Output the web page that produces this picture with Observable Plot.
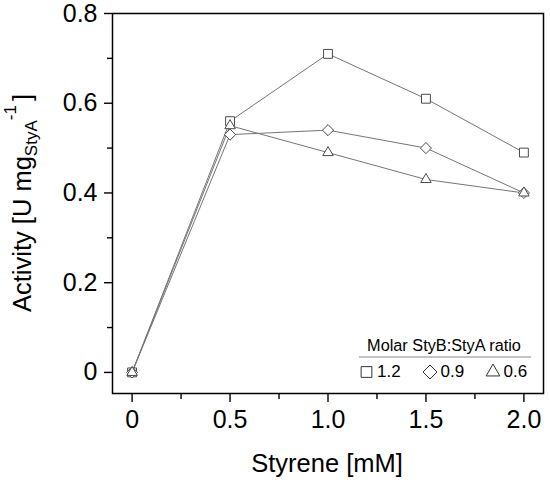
<!DOCTYPE html>
<html>
<head>
<meta charset="utf-8">
<script src="https://cdn.jsdelivr.net/npm/d3@7"></script>
<script src="https://cdn.jsdelivr.net/npm/@observablehq/plot@0.6"></script>
<style>
  body { margin: 0; background: white; }
  #chart svg { display: block; }
</style>
</head>
<body>
<div id="chart"></div>
<script>
const styrene = [0, 0.5, 1.0, 1.5, 2.0]
const ratios = ["1.2", "0.9", "0.6"]
const act12 = [0, 0.56, 0.71, 0.61, 0.49]
const act09 = [0, 0.53, 0.54, 0.50, 0.40]
const act06 = [0, 0.55, 0.49, 0.43, 0.40]
const xTicks = [0, 0.5, 1.0, 1.5, 2.0]
const xMinor = [0.25, 0.75, 1.25, 1.75]
const yTicks = [0, 0.2, 0.4, 0.6, 0.8]
const yMinor = [0.1, 0.3, 0.5, 0.7]
const legendTitle = "Molar StyB:StyA ratio"

const series = [act12, act09, act06]
const rows = ratios.flatMap((r, i) =>
  styrene.map((x, j) => ({ratio: r, styrene: x, activity: series[i][j]}))
)

const fmt = d => d === 0 ? "0" : d.toFixed(1)
const font = "'Liberation Sans', Arial, sans-serif"

let chart = Plot.plot({
  width: 550,
  height: 483,
  marginLeft: 112,
  marginRight: 7,
  marginTop: 13,
  marginBottom: 90,
  x: {domain: [-0.1, 2.1]},
  y: {domain: [-0.047, 0.8]},
  symbol: {domain: ratios, range: ["square", "diamond2", "triangle2"]},
  style: {fontFamily: font, fontSize: "25px", color: "black", backgroundColor: "white"},
  marks: [
    Plot.axisX(xTicks, {tickSize: 9, tickPadding: 8, tickFormat: fmt, fontSize: 25, strokeWidth: 1.4, label: null}),
    Plot.axisX(xMinor, {tickSize: 6, text: null, strokeWidth: 1.4, label: null}),
    Plot.axisY(yTicks, {tickSize: 8, tickPadding: 7, tickFormat: fmt, fontSize: 25, strokeWidth: 1.4, label: null}),
    Plot.axisY(yMinor, {tickSize: 5, text: null, strokeWidth: 1.4, label: null}),
    Plot.frame({stroke: "black", strokeWidth: 1.5}),
    Plot.line(rows, {x: "styrene", y: "activity", z: "ratio", stroke: "#757575", strokeWidth: 1}),
    Plot.dot(rows, {x: "styrene", y: "activity", symbol: "ratio", r: 5, stroke: "#4a4a4a", fill: "white", strokeWidth: 1})
  ]
})

const svg = d3.select(chart)

// axis titles
svg.append("text")
  .attr("x", 327).attr("y", 472)
  .attr("text-anchor", "middle")
  .attr("font-family", font).attr("font-size", 25.5)
  .text("Styrene [mM]")

const yl = svg.append("text")
  .attr("transform", "translate(31,203) rotate(-90)")
  .attr("text-anchor", "middle")
  .attr("font-family", font).attr("font-size", 25.5)
yl.append("tspan").text("Activity [U mg")
yl.append("tspan").attr("font-size", 17).attr("dy", 6).text("StyA")
yl.append("tspan").attr("font-size", 17).attr("dy", -21).text("-1")
yl.append("tspan").attr("dy", 15).attr("dx", 4).text("]")

// legend
const leg = svg.append("g").attr("font-family", font).attr("font-size", 17)
  .attr("text-anchor", "start")
leg.append("text").attr("x", 444).attr("y", 351).attr("text-anchor", "middle")
  .attr("font-size", 16.3).text(legendTitle)
leg.append("line").attr("x1", 359).attr("x2", 531).attr("y1", 357).attr("y2", 357)
  .attr("stroke", "#888").attr("stroke-width", 1)
const legSym = [d3.symbolSquare, d3.symbolDiamond2, d3.symbolTriangle2]
const legSize = [115, 125, 135]
const legX = [366.5, 430, 493]
ratios.forEach((r, i) => {
  leg.append("path")
    .attr("d", d3.symbol(legSym[i], legSize[i])())
    .attr("transform", `translate(${legX[i]},372)`)
    .attr("fill", "white").attr("stroke", "#333").attr("stroke-width", 1)
  leg.append("text").attr("x", legX[i] + 10.5).attr("y", 376.5).text(r)
})

d3.select('#chart').append(() => chart)
</script>
</body>
</html>
